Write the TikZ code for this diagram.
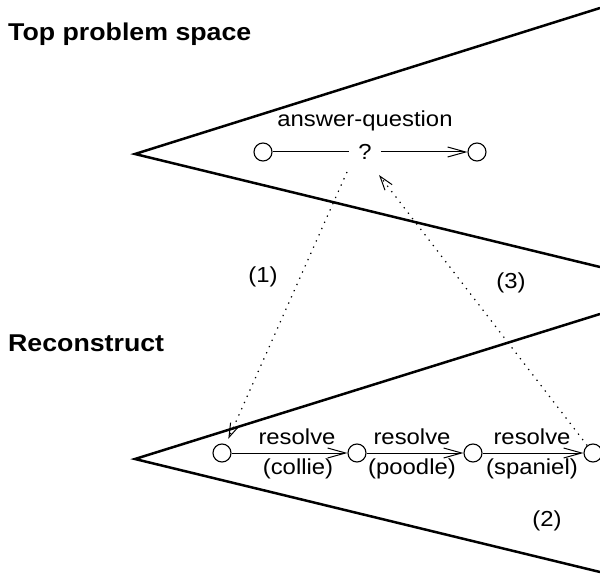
\documentclass[tikz,border=0pt]{standalone}
\usepackage{fontspec}
\setmainfont{Liberation Sans}[FakeStretch=1.1]
\usetikzlibrary{arrows.meta}
\tikzset{
  wedge/.style={line width=2.5pt, line join=miter},
  state/.style={circle, draw, line width=1.1pt, minimum size=18pt, inner sep=0pt},
  lbl/.style={font=\fontsize{21.7}{24}\selectfont, inner sep=0pt},
  title/.style={font=\fontsize{24.3}{28}\selectfont\bfseries, inner sep=0pt, anchor=base west},
  opstep/.style={line width=1pt, -{Straight Barb[length=18pt,width=10pt,line width=1pt]}},
  plainstep/.style={line width=1pt},
  link/.style={line width=1.2pt, dash pattern=on 1.3pt off 5.5pt,
    -{Straight Barb[length=14pt,width=9pt,line width=1pt]}}
}
\begin{document}
\begin{tikzpicture}[x=1pt,y=-1pt]
\useasboundingbox (0,0) rectangle (600,575);
% problem space wedges
\draw[wedge] (600,8) -- (135,154) -- (600,267);
\draw[wedge] (600,314) -- (135,459) -- (600,572);
% titles
\node[title] (ttop) at (8,41) {Top problem space};
\node[title] (trec) at (8,351) {Reconstruct};
% top problem space
\node[state] (c1) at (263,152) {};
\node[state] (c2) at (477,152) {};
\node[lbl, inner xsep=9pt] (q) at (365,152) {?};
\node[lbl, anchor=base] (aq) at (365,127) {answer-question};
\draw[plainstep] (c1) -- (q);
\draw[opstep] (q) -- (c2);
% reconstruct space
\node[state] (r1) at (222,453) {};
\node[state] (r2) at (357,453) {};
\node[state] (r3) at (473,453) {};
\node[state] (r4) at (593,453) {};
\draw[opstep] (r1) -- (r2);
\draw[opstep] (r2) -- (r3);
\draw[opstep] (r3) -- (r4);
\node[lbl, anchor=base] (l1a) at (297,444) {resolve};
\node[lbl, anchor=base] (l1b) at (298,474) {(collie)};
\node[lbl, anchor=base] (l2a) at (412,444) {resolve};
\node[lbl, anchor=base] (l2b) at (412,474) {(poodle)};
\node[lbl, anchor=base] (l3a) at (532,444) {resolve};
\node[lbl, anchor=base] (l3b) at (532,474) {(spaniel)};
% links between spaces
\coordinate (d1s) at (347,172);
\coordinate (d3e) at (379,175);
\draw[link, shorten >=6pt] (d1s) -- (r1);
\draw[link] (r4) -- (d3e);
\node[lbl] (n1) at (263,277) {(1)};
\node[lbl] (n3) at (511,283) {(3)};
\node[lbl] (n2) at (547,521) {(2)};
\end{tikzpicture}
\end{document}
